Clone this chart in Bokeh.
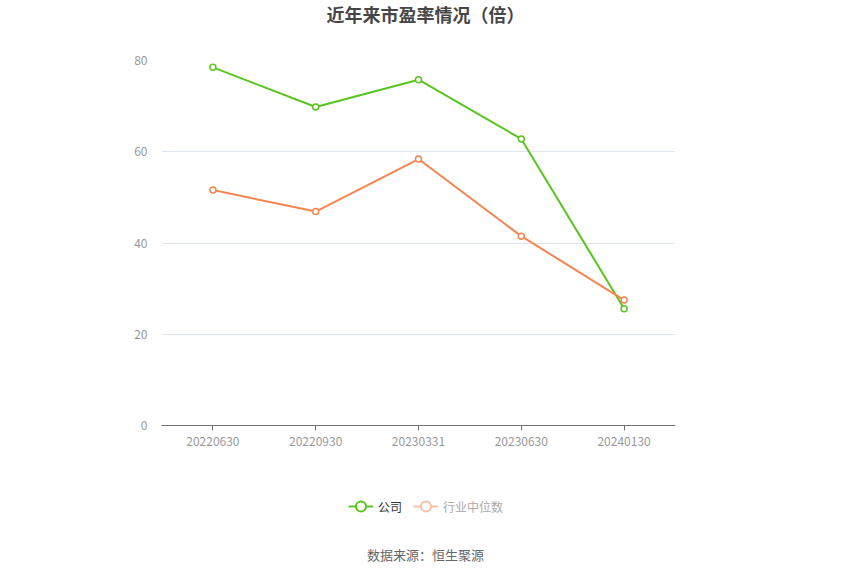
from bokeh.plotting import figure
from bokeh.layouts import column
from bokeh.models import Label, Legend, LegendItem, ColumnDataSource, FixedTicker, Range1d
from bokeh.embed import file_html
from bokeh.resources import INLINE

categories = ["20220630", "20220930", "20230331", "20230630", "20240130"]
company = [78.5, 69.8, 75.8, 62.8, 25.6]
industry = [51.6, 46.9, 58.4, 41.5, 27.5]
y_ticks = [0, 20, 40, 60, 80]
title_text = "近年来市盈率情况（倍）"
source_text = "数据来源：恒生聚源"
series_names = ["公司", "行业中位数"]

GREEN = "#5ac41e"
ORANGE = "#f7854f"
FONT = "Noto Sans CJK SC"
W = 842
FL, FR = 161, 675          # frame left/right in page pixels
CX = 425 - FL              # page centre relative to frame left


def blank_fig(h):
    f = figure(width=W, height=h, x_range=Range1d(0, 1), y_range=Range1d(0, 1),
               x_axis_type=None, y_axis_type=None, output_backend="svg",
               toolbar_location=None, min_border_left=FL,
               min_border_right=W - FR, min_border_top=0, min_border_bottom=0)
    f.outline_line_color = None
    f.xgrid.grid_line_color = None
    f.ygrid.grid_line_color = None
    f.background_fill_color = "white"
    f.border_fill_color = "white"
    return f


# ---- title strip ----
top = blank_fig(40)
top.add_layout(Label(x=CX, y=27, x_units="screen", y_units="screen",
                     text=title_text, text_align="center", text_baseline="middle",
                     text_font=FONT, text_font_size="18px",
                     text_font_style="bold", text_color="#464646"))

# ---- main chart ----
p = figure(x_range=categories, y_range=(0, 80), width=W, height=430,
           output_backend="svg", toolbar_location=None,
           min_border_left=FL, min_border_right=W - FR,
           min_border_top=20, min_border_bottom=45)
p.outline_line_color = None
p.background_fill_color = "white"
p.border_fill_color = "white"

p.yaxis.ticker = FixedTicker(ticks=y_ticks)
p.yaxis.axis_line_color = None
p.yaxis.major_tick_line_color = None
p.yaxis.minor_tick_line_color = None
p.yaxis.major_label_text_color = "#999999"
p.yaxis.major_label_text_font = FONT
p.yaxis.major_label_text_font_size = "12px"
p.yaxis.major_label_standoff = 8

p.xaxis.axis_line_color = "#6e7079"
p.xaxis.major_tick_line_color = "#6e7079"
p.xaxis.major_tick_out = 5
p.xaxis.major_tick_in = 0
p.xaxis.minor_tick_line_color = None
p.xaxis.major_label_text_color = "#999999"
p.xaxis.major_label_text_font = FONT
p.xaxis.major_label_text_font_size = "12px"
p.xaxis.major_label_standoff = 6

p.xgrid.grid_line_color = None
p.ygrid.grid_line_color = "#e0e6f1"
p.ygrid.grid_line_width = 1

src = ColumnDataSource(dict(x=categories, c=company, i=industry))
p.line("x", "c", source=src, line_color=GREEN, line_width=2)
p.scatter("x", "c", source=src, size=6, marker="circle",
          line_color=GREEN, line_width=1.5, fill_color="white")
p.line("x", "i", source=src, line_color=ORANGE, line_width=2)
p.scatter("x", "i", source=src, size=6, marker="circle",
          line_color=ORANGE, line_width=1.5, fill_color="white")

# ---- legend + source strip ----
bot = blank_fig(97)
empty = ColumnDataSource(dict(x=[0.5], y=[float("nan")]))
lg1 = bot.line("x", "y", source=empty, line_color=GREEN, line_width=2)
lm1 = bot.scatter("x", "y", source=empty, marker="circle",
                  line_color=GREEN, line_width=2, fill_color="white")
lg2 = bot.line("x", "y", source=empty, line_color="#f9c0a7", line_width=2)
lm2 = bot.scatter("x", "y", source=empty, marker="circle",
                  line_color="#f9c0a7", line_width=2, fill_color="white")

common = dict(orientation="horizontal", label_text_font=FONT,
              label_text_font_size="12px", glyph_width=25, glyph_height=28,
              label_standoff=5, border_line_color=None,
              background_fill_alpha=0, margin=0, padding=0)
leg1 = Legend(items=[LegendItem(label=series_names[0], renderers=[lg1, lm1])],
              location=(348 - FL, 47), label_text_color="#333333", **common)
leg2 = Legend(items=[LegendItem(label=series_names[1], renderers=[lg2, lm2])],
              location=(413 - FL, 47), label_text_color="#aaaaaa", **common)
bot.add_layout(leg1, "center")
bot.add_layout(leg2, "center")

bot.add_layout(Label(x=CX, y=13, x_units="screen", y_units="screen",
                     text=source_text, text_align="center", text_baseline="middle",
                     text_font=FONT, text_font_size="13px",
                     text_color="#666666"))

layout = column(top, p, bot, spacing=0)
open("out.html", "w").write(file_html(layout, INLINE))
